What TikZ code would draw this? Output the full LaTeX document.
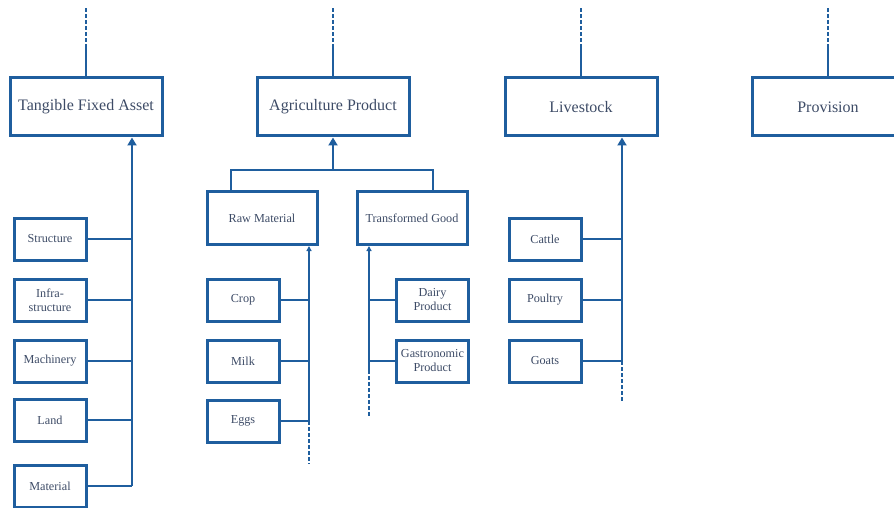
\documentclass[tikz,border=0pt]{standalone}
\usepackage{fontspec}
\setmainfont{Liberation Serif}
\usetikzlibrary{arrows.meta}
\definecolor{chartblue}{HTML}{1F5E9E}
\definecolor{chartink}{HTML}{3D4B66}

\tikzset{
  topbox/.style={draw=chartblue,line width=1.5pt,minimum width=76pt,minimum height=29pt,
    text=chartink,font=\fontsize{8}{9}\selectfont},
  subbox/.style={draw=chartblue,line width=1.5pt,minimum width=55pt,minimum height=26.5pt,
    text=chartink,font=\fontsize{6.1}{7}\selectfont},
  itembox/.style={draw=chartblue,line width=1.5pt,minimum width=36pt,minimum height=21pt,
    inner xsep=1pt,text=chartink,font=\fontsize{6.1}{7}\selectfont,align=center},
  link/.style={draw=chartblue,line width=1pt},
  dashlink/.style={link,dash pattern=on 2pt off 1pt},
  bigtip/.style={link,-{Triangle[length=4pt,width=4.5pt]}},
  smalltip/.style={link,-{Triangle[length=2.5pt,width=2.5pt]}}
}

\begin{document}
\begin{tikzpicture}[x=0.5pt,y=-0.5pt]
  \useasboundingbox (0,0) rectangle (894,508);

  % top level
  \node[topbox] (tfa) at (86,107) {Tangible Fixed Asset};
  \node[topbox] (agri) at (333,107) {Agriculture Product};
  \node[topbox] (live) at (581,107) {Livestock};
  \node[topbox] (prov) at (828,107) {Provision};

  \foreach \n in {tfa,agri,live,prov} {
    \coordinate (\n top) at ([yshift=14pt]\n.north);
    \draw[dashlink] ([yshift=34pt]\n.north) -- (\n top);
    \draw[link] (\n top) -- (\n.north);
  }

  % tangible fixed asset
  \node[itembox] (struct) at (50,239) {Structure};
  \node[itembox] (infra) at (50,300) {Infra-\\structure};
  \node[itembox] (mach) at (50,361) {Machinery};
  \node[itembox] (land) at (50,420) {Land};
  \node[itembox] (mat) at (50,486) {Material};
  \coordinate (tfaend) at (132,486);
  \draw[bigtip] (tfaend) -- (tfaend |- tfa.south);
  \foreach \n in {struct,infra,mach,land,mat}
    \draw[link] (\n.east) -- (\n.east -| tfaend);

  % agriculture product
  \node[subbox] (raw) at (262,218) {Raw Material};
  \node[subbox] (trans) at (412,218) {Transformed Good};
  \coordinate (agrijoin) at (333,170);
  \draw[bigtip] (agrijoin) -- (agri.south);
  \draw[link] ([xshift=12.5pt]raw.north west) |- (agrijoin) -| ([xshift=-18pt]trans.north east);

  \node[itembox] (crop) at (243,300) {Crop};
  \node[itembox] (milk) at (243,361) {Milk};
  \node[itembox] (eggs) at (243,421) {Eggs};
  \coordinate (rawend) at (309,421);
  \draw[smalltip] (rawend) -- (rawend |- raw.south);
  \draw[dashlink] (rawend) -- (309,464);
  \foreach \n in {crop,milk,eggs}
    \draw[link] (\n.east) -- (\n.east -| rawend);

  \node[itembox] (dairy) at (432.5,300) {Dairy\\Product};
  \node[itembox] (gastro) at (432.5,361) {Gastronomic\\Product};
  \coordinate (transend) at (369,370);
  \draw[smalltip] (transend) -- (transend |- trans.south);
  \draw[dashlink] (transend) -- (369,417);
  \foreach \n in {dairy,gastro}
    \draw[link] (\n.west) -- (\n.west -| transend);

  % livestock
  \node[itembox] (cattle) at (545,239) {Cattle};
  \node[itembox] (poultry) at (545,300) {Poultry};
  \node[itembox] (goats) at (545,361) {Goats};
  \coordinate (liveend) at (622,361);
  \draw[bigtip] (liveend) -- (liveend |- live.south);
  \draw[dashlink] (liveend) -- (622,402);
  \foreach \n in {cattle,poultry,goats}
    \draw[link] (\n.east) -- (\n.east -| liveend);
\end{tikzpicture}
\end{document}
